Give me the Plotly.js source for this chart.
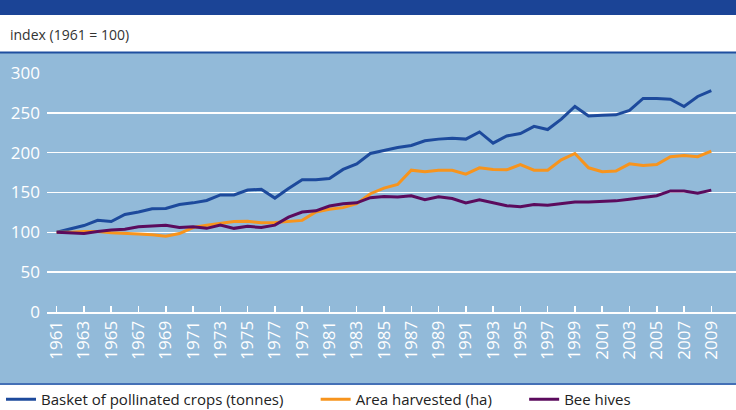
<!DOCTYPE html>
<html>
<head>
<meta charset="utf-8">
<script src="https://cdn.plot.ly/plotly-3.0.1.min.js"></script>
<style>html,body{margin:0;padding:0;background:#fff;}#chart{width:736px;height:410px;}</style>
</head>
<body>
<div id="chart"></div>
<script>
// ---- data ----
const years = [1961,1962,1963,1964,1965,1966,1967,1968,1969,1970,1971,1972,1973,1974,1975,1976,1977,1978,1979,1980,1981,1982,1983,1984,1985,1986,1987,1988,1989,1990,1991,1992,1993,1994,1995,1996,1997,1998,1999,2000,2001,2002,2003,2004,2005,2006,2007,2008,2009];
const basketCrops = [100,104,108.5,115,113.5,122.5,125.5,129.5,130,135,137,140,147,147,153,154,143,155,166,166,167.5,179,186,199,203,206.5,209,215,217,218,217,226,212,221,224,233,229,242,258,246,247,247.5,253,268,268,267,258,270.5,278];
const areaHarvested = [100,100,101,101,99.5,99,98,97,95,98.5,106,109,111,113.5,114,112,112.5,113.5,115,125.5,129,131,136,148.5,155.5,160,178,176,178,178,173,181,179,178.5,185,178,178,191,199,181,176,177,186,184,185,195,196.5,195,202];
const beeHives = [100,99,98.5,101,103,104,107,108,109,106,107,105,109,105,107.5,106,109,119,125.5,127,133,136,137,143.5,145,144.5,146,141,144.5,142.5,137,141,137,133.5,132,135,134,136,138,138,139,139.5,141.5,143.5,146,152,152,149,153];
const seriesNames = ["Basket of pollinated crops (tonnes)", "Area harvested (ha)", "Bee hives"];
const tickYears = [1961,1963,1965,1967,1969,1971,1973,1975,1977,1979,1981,1983,1985,1987,1989,1991,1993,1995,1997,1999,2001,2003,2005,2007,2009];
const tickLabels = tickYears.map(String);
const yTitle = "index (1961 = 100)";

// ---- layout geometry ----
const W = 736, H = 410, ML = 47, MR = 0, MT = 73, MB = 98;
const PW = W - ML - MR, PH = H - MT - MB;
const px2x = p => (p - ML) / PW;
const py2y = p => (H - MB - p) / PH;
const FONT = "Open Sans, Noto Sans, DejaVu Sans, sans-serif";
const pad = n => "\u00a0".repeat(n);

const colors = ["#1d4a9c", "#f7941d", "#5b0b5d"];
const seriesData = [basketCrops, areaHarvested, beeHives];
const namePad = [7, 7, 0];
const traces = seriesData.map((vals, i) => ({
  type: "scatter", mode: "lines", x: years, y: vals, name: seriesNames[i] + pad(namePad[i]),
  line: {color: colors[i], width: 3}, hoverinfo: "skip"
}));

const layout = {
  width: W, height: H,
  margin: {l: ML, r: MR, t: MT, b: MB, pad: 0, autoexpand: false},
  paper_bgcolor: "#ffffff",
  plot_bgcolor: "rgba(0,0,0,0)",
  font: {family: FONT, color: "#333333"},
  showlegend: true,
  legend: {
    orientation: "h", x: px2x(1), xanchor: "left", y: py2y(399.5), yanchor: "middle",
    font: {family: FONT, size: 15, color: "#222222"}, bgcolor: "rgba(0,0,0,0)",
    itemwidth: 30, tracegroupgap: 0
  },
  xaxis: {
    range: [1960.29, 2010.81], tickmode: "array", tickvals: tickYears, ticktext: tickLabels,
    tickangle: -90, ticks: "inside", ticklen: 6, tickwidth: 1.5, tickcolor: "#ffffff",
    showline: true, linecolor: "#ffffff", linewidth: 2, showgrid: false, zeroline: false,
    tickfont: {family: FONT, size: 17, color: "#ffffff"}, fixedrange: true
  },
  yaxis: {
    range: [0, 300], dtick: 50, tick0: 0, ticks: "", showline: false, zeroline: false,
    gridcolor: "#ffffff", gridwidth: 1.5, ticklabelstandoff: 6,
    tickfont: {family: FONT, size: 17, color: "#ffffff"}, fixedrange: true
  },
  shapes: [
    {type: "rect", xref: "paper", yref: "paper", x0: px2x(0), x1: px2x(W), y0: py2y(53), y1: py2y(383.5), fillcolor: "#92bad9", line: {width: 0}, layer: "below"},
    {type: "rect", xref: "paper", yref: "paper", x0: px2x(0), x1: px2x(W), y0: py2y(0), y1: py2y(15), fillcolor: "#1b4496", line: {width: 0}, layer: "below"},
    {type: "line", xref: "paper", yref: "paper", x0: px2x(0), x1: px2x(W), y0: py2y(52.5), y1: py2y(52.5), line: {color: "#1f4f9f", width: 2}, layer: "below"},
    {type: "line", xref: "paper", yref: "paper", x0: px2x(0), x1: px2x(W), y0: py2y(384), y1: py2y(384), line: {color: "#4470b6", width: 2}, layer: "below"}
  ],
  annotations: [
    {text: yTitle, xref: "paper", yref: "paper", x: px2x(8), y: py2y(35), xanchor: "left", yanchor: "middle", showarrow: false, font: {family: FONT, size: 14, color: "#333333"}}
  ]
};

Plotly.newPlot("chart", traces, layout, {displayModeBar: false, staticPlot: true});
</script>
</body>
</html>
